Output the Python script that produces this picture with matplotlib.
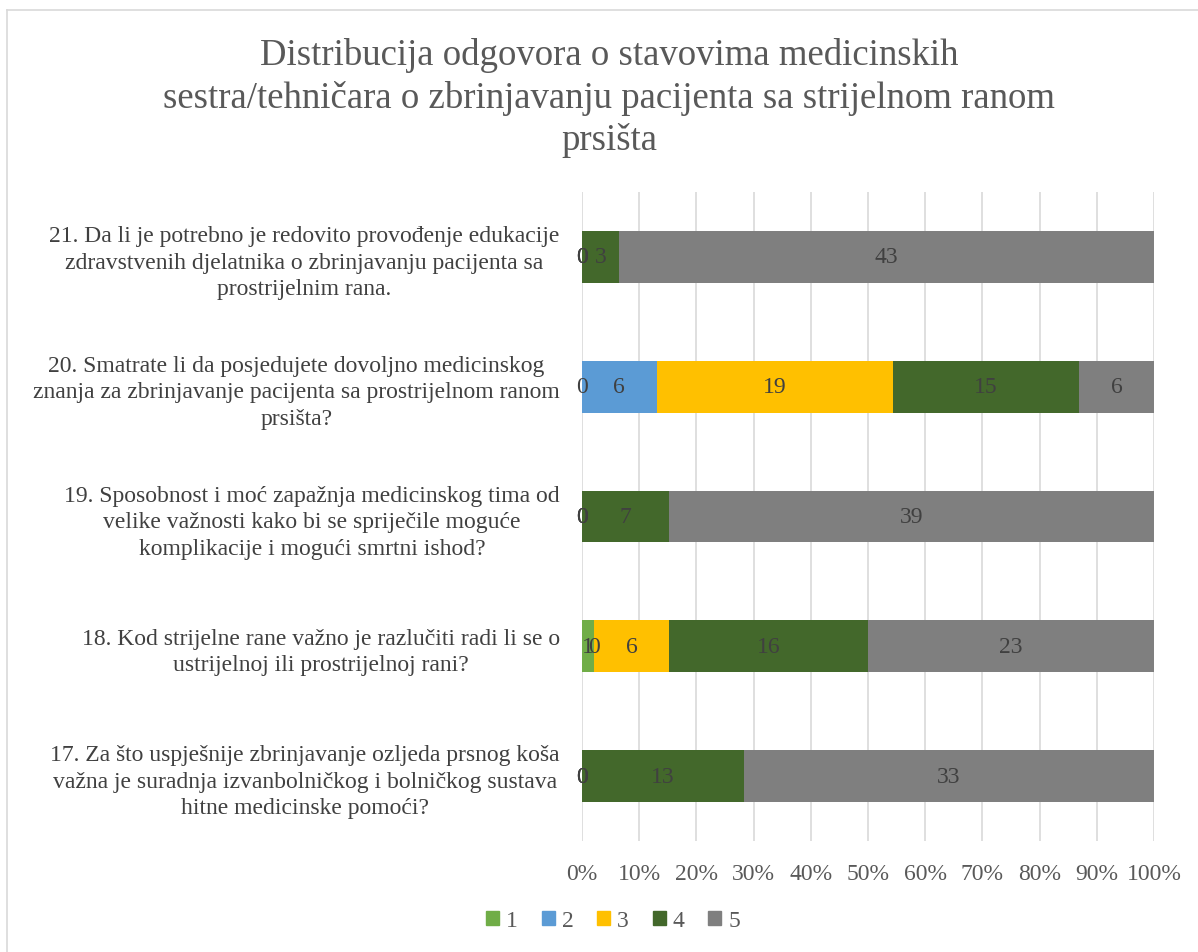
import matplotlib
matplotlib.use("Agg")
import matplotlib.pyplot as plt
from matplotlib.lines import Line2D
import numpy as np

plt.rcParams['font.family'] = ['Liberation Serif', 'DejaVu Serif']

categories = [
    "21. Da li je potrebno je redovito provođenje edukacije\nzdravstvenih djelatnika o zbrinjavanju pacijenta sa\nprostrijelnim rana.",
    "20. Smatrate li da posjedujete dovoljno medicinskog\nznanja za zbrinjavanje pacijenta sa prostrijelnom ranom\nprsišta?",
    "19. Sposobnost i moć zapažnja medicinskog tima od\nvelike važnosti kako bi se spriječile moguće\nkomplikacije i mogući smrtni ishod?",
    "18. Kod strijelne rane važno je razlučiti radi li se o\nustrijelnoj ili prostrijelnoj rani?",
    "17. Za što uspješnije zbrinjavanje ozljeda prsnog koša\nvažna je suradnja izvanbolničkog i bolničkog sustava\nhitne medicinske pomoći?",
]
series_names = ["1", "2", "3", "4", "5"]
s1 = [0, 0, 0, 1, 0]
s2 = [0, 6, 0, 0, 0]
s3 = [0, 19, 0, 6, 0]
s4 = [3, 15, 7, 16, 13]
s5 = [43, 6, 39, 23, 33]
colors = ["#70AD47", "#5B9BD5", "#FFC000", "#43682B", "#7F7F7F"]
title = "Distribucija odgovora o stavovima medicinskih\nsestra/tehničara o zbrinjavanju pacijenta sa strijelnom ranom\nprsišta"

data = np.array([s1, s2, s3, s4, s5], dtype=float)
totals = data.sum(axis=0)
pct = data / totals * 100

fig = plt.figure(figsize=(11.98, 9.53), dpi=100)
ax = fig.add_axes([582/1198, 1-842/953, 572/1198, 649/953])

y = np.arange(len(categories))[::-1]
left = np.zeros(len(categories))
text_color = "#404040"
for i, name in enumerate(series_names):
    ax.barh(y, pct[i], left=left, height=0.4, color=colors[i], label=name, zorder=2)
    for j in range(len(categories)):
        ax.text(left[j] + pct[i][j] / 2, y[j], f"{int(data[i][j])}", ha="center", va="center",
                fontsize=17, color=text_color, zorder=3)
    left += pct[i]

ax.set_xlim(0, 100)
ax.set_ylim(-0.5, len(categories) - 0.5)
ax.set_xticks(np.arange(0, 101, 10))
ax.set_xticklabels([f"{v}%" for v in range(0, 101, 10)])
ax.set_yticks(y)
ax.set_yticklabels(categories, multialignment="center", linespacing=1.35)
ax.tick_params(axis="y", length=0, pad=16, labelsize=17, labelcolor=text_color)
ax.tick_params(axis="x", length=0, pad=16, labelsize=17, labelcolor="#595959")
ax.grid(axis="x", color="#D9D9D9", linewidth=1.2, zorder=0)
for s in ax.spines.values():
    s.set_visible(False)

fig.text(0.5085, 1 - 98/953, title, ha="center", va="center", fontsize=26.5,
         color="#595959", linespacing=1.27)

handles = [plt.Rectangle((0, 0), 1, 1, color=c) for c in colors]
fig.legend(handles, series_names, loc="center", bbox_to_anchor=(613/1198, 1 - 922/953), ncol=5,
           frameon=False, fontsize=17, handlelength=0.55, handleheight=0.55, handletextpad=0.3,
           columnspacing=1.0, labelcolor="#595959")

fig.add_artist(Line2D([7/1198, 1], [1 - 11/953, 1 - 11/953], transform=fig.transFigure,
                      color="#D9D9D9", linewidth=1.2))
fig.add_artist(Line2D([7/1198, 7/1198], [0, 1 - 11/953], transform=fig.transFigure,
                      color="#D9D9D9", linewidth=1.2))

fig.savefig("out.png", dpi=100)
